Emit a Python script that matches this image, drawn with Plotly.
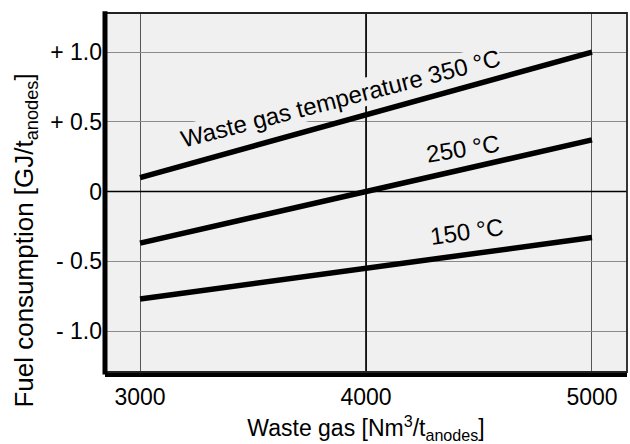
import plotly.graph_objects as go

waste_gas = [3000, 4000, 5000]
fuel_350 = [0.10, 0.55, 1.00]
fuel_250 = [-0.37, 0.00, 0.37]
fuel_150 = [-0.77, -0.55, -0.33]

x_ticks = [3000, 4000, 5000]
y_ticks = [1.0, 0.5, 0, -0.5, -1.0]
y_tick_labels = ["+ 1.0", "+ 0.5", "0", "- 0.5", "- 1.0"]

FONT = "Liberation Sans, Arial, sans-serif"
BG = "#f0f0f0"

fig = go.Figure()
for ys in (fuel_350, fuel_250, fuel_150):
    fig.add_trace(go.Scatter(x=waste_gas, y=ys, mode="lines",
                             line=dict(color="black", width=5.5),
                             showlegend=False, hoverinfo="skip"))

# emphasized reference lines
fig.add_shape(type="line", xref="x", yref="paper", x0=4000, x1=4000, y0=0, y1=1,
              line=dict(color="black", width=1.6), layer="above")
fig.add_shape(type="line", xref="paper", yref="y", x0=0, x1=1, y0=0, y1=0,
              line=dict(color="black", width=1.6), layer="above")
# thin frame top/right
fig.add_shape(type="rect", xref="paper", yref="paper", x0=0, x1=1, y0=0, y1=1,
              line=dict(color="#222222", width=1.8), layer="above")
# thick left axis line
fig.add_shape(type="line", xref="paper", yref="paper", x0=0, x1=0, y0=-0.007, y1=1.005,
              line=dict(color="black", width=5), layer="above")

ann_font = dict(family=FONT, size=24, color="black")
fig.add_annotation(x=3885, y=0.67, xref="x", yref="y",
                   text="Waste gas temperature 350 °C", textangle=-14.5,
                   showarrow=False, font=ann_font, bgcolor=BG, borderpad=0)
fig.add_annotation(x=4430, y=0.31, xref="x", yref="y",
                   text="250 °C", textangle=-9,
                   showarrow=False, font=ann_font, bgcolor=BG, borderpad=0)
fig.add_annotation(x=4445, y=-0.29, xref="x", yref="y",
                   text="150 °C", textangle=-8,
                   showarrow=False, font=ann_font, bgcolor=BG, borderpad=0)

# y-axis title (placed as in the reference, slightly below centre)
fig.add_annotation(x=-0.152, y=0.365, xref="paper", yref="paper",
                   text="Fuel consumption [GJ/t<sub>anodes</sub>]", textangle=-90,
                   showarrow=False, xanchor="center", yanchor="middle",
                   font=dict(family=FONT, size=26, color="black"))

fig.update_layout(
    width=630, height=444,
    margin=dict(l=105, r=3, t=13, b=72),
    paper_bgcolor="white", plot_bgcolor=BG,
    font=dict(family=FONT, size=23, color="black"),
)
fig.update_xaxes(range=[2845, 5155], tickvals=x_ticks, ticktext=[str(v) for v in x_ticks],
                 showgrid=True, gridcolor="#555555", gridwidth=1,
                 showline=True, linecolor="black", linewidth=5,
                 zeroline=False, ticks="", ticklabelstandoff=0,
                 tickfont=dict(family=FONT, size=23), automargin=False,
                 title=dict(text="Waste gas [Nm<sup>3</sup>/t<sub>anodes</sub>]",
                            font=dict(family=FONT, size=23), standoff=13))
fig.update_yaxes(range=[-1.294, 1.28], tickvals=y_ticks, ticktext=y_tick_labels,
                 showgrid=True, gridcolor="#8a8a8a", gridwidth=1,
                 showline=False,
                 zeroline=False, ticks="", ticklabelstandoff=2,
                 tickfont=dict(family=FONT, size=23), automargin=False)

fig.write_html("out.html", config={"displayModeBar": False},
               post_script="document.body.style.margin='0';")
